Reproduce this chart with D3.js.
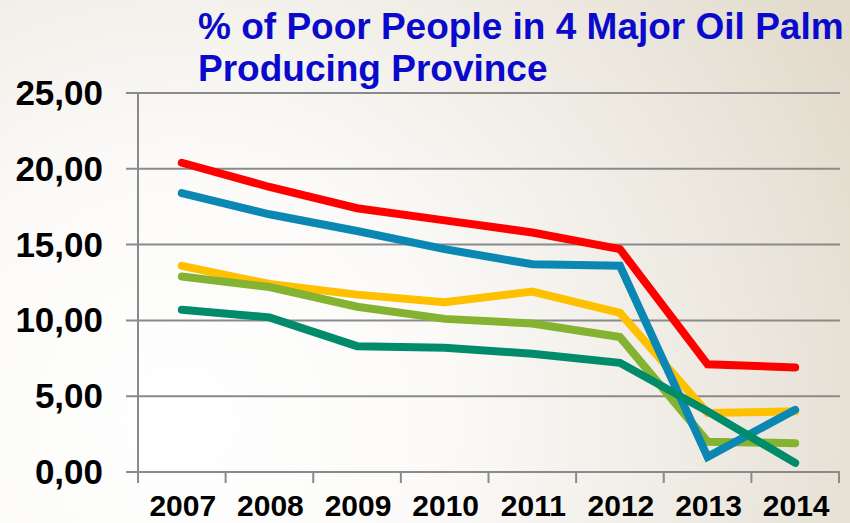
<!DOCTYPE html>
<html>
<head>
<meta charset="utf-8">
<script src="https://cdn.jsdelivr.net/npm/d3@7"></script>
<style>
  html, body { margin: 0; padding: 0; }
  body { width: 850px; height: 523px; overflow: hidden; }
  svg { display: block; }
</style>
</head>
<body>
<svg id="chart" width="850" height="523"></svg>
<script>
// Poverty share (%) in the four main oil palm producing provinces, 2007-2014
const years = ["2007", "2008", "2009", "2010", "2011", "2012", "2013", "2014"];
const seriesNames = ["Province A", "Province B", "Province C", "Province D", "Province E"];
const redValues = [20.4, 18.8, 17.4, 16.6, 15.8, 14.7, 7.1, 6.9];
const yellowValues = [13.6, 12.4, 11.7, 11.2, 11.9, 10.5, 3.9, 4.0];
const oliveValues = [12.9, 12.2, 10.9, 10.1, 9.8, 8.9, 2.0, 1.9];
const blueValues = [18.4, 17.0, 15.9, 14.7, 13.7, 13.6, 1.0, 4.1];
const tealValues = [10.7, 10.2, 8.3, 8.2, 7.8, 7.2, 4.0, 0.6];
const yTicks = [0, 5, 10, 15, 20, 25];
const titleLines = ["% of Poor People in 4 Major Oil Palm", "Producing Province"];

const series = [
  { name: seriesNames[0], values: redValues, color: "#ff0000" },
  { name: seriesNames[1], values: yellowValues, color: "#ffc000" },
  { name: seriesNames[2], values: oliveValues, color: "#84b231" },
  { name: seriesNames[3], values: blueValues, color: "#0b87b3" },
  { name: seriesNames[4], values: tealValues, color: "#008c6b" }
];

const W = 850, H = 523;
const plot = { left: 138, right: 839, top: 93, bottom: 472 };
const svg = d3.select("#chart");

// background wash: white at lower left, warm beige toward the upper right
const defs = svg.append("defs");
const bg = defs.append("radialGradient")
  .attr("id", "bg").attr("gradientUnits", "userSpaceOnUse")
  .attr("cx", 180).attr("cy", 420).attr("r", 760);
bg.append("stop").attr("offset", "0%").attr("stop-color", "#ffffff");
bg.append("stop").attr("offset", "35%").attr("stop-color", "#fbfaf8");
bg.append("stop").attr("offset", "75%").attr("stop-color", "#ece8df");
bg.append("stop").attr("offset", "100%").attr("stop-color", "#e2dbcc");
svg.append("rect").attr("width", W).attr("height", H).attr("fill", "url(#bg)");

const x = d3.scaleBand().domain(years).range([plot.left, plot.right]).padding(0);
const y = d3.scaleLinear().domain([0, 25]).range([plot.bottom, plot.top]);

const gridColor = "#8a8a8a";

// horizontal gridlines (they also form the y tick marks on the left)
svg.append("g").selectAll("line").data(yTicks).join("line")
  .attr("x1", plot.left - 12).attr("x2", plot.right + 1)
  .attr("y1", d => y(d)).attr("y2", d => y(d))
  .attr("stroke", gridColor).attr("stroke-width", 2);

// y axis line
svg.append("line")
  .attr("x1", plot.left).attr("x2", plot.left)
  .attr("y1", y(25)).attr("y2", y(0) + 11)
  .attr("stroke", gridColor).attr("stroke-width", 2);

// x axis with ticks at category boundaries
const boundaries = years.map(d => x(d)).concat([plot.right]);
svg.append("g").selectAll("line").data(boundaries).join("line")
  .attr("x1", d => d).attr("x2", d => d)
  .attr("y1", y(0)).attr("y2", y(0) + 11)
  .attr("stroke", gridColor).attr("stroke-width", 2);

// y tick labels
const fmt = d => d3.format(".2f")(d).replace(".", ",");
svg.append("g").selectAll("text").data(yTicks).join("text")
  .attr("x", 103).attr("y", d => y(d) + 12)
  .attr("text-anchor", "end")
  .attr("font-family", "Liberation Sans, Arial, sans-serif")
  .attr("font-weight", "bold").attr("font-size", 35)
  .attr("fill", "#000")
  .text(fmt);

// x tick labels
svg.append("g").selectAll("text").data(years).join("text")
  .attr("x", d => x(d) + x.bandwidth() / 2 + 1).attr("y", 516)
  .attr("text-anchor", "middle")
  .attr("font-family", "Liberation Sans, Arial, sans-serif")
  .attr("font-weight", "bold").attr("font-size", 30)
  .attr("fill", "#000")
  .text(d => d);

// series lines
const line = d3.line()
  .x((d, i) => x(years[i]) + x.bandwidth() / 2)
  .y(d => y(d));

svg.append("g").selectAll("path").data(series).join("path")
  .attr("d", s => line(s.values))
  .attr("fill", "none")
  .attr("stroke", s => s.color)
  .attr("stroke-width", 8)
  .attr("stroke-linecap", "round")
  .attr("stroke-linejoin", "miter");

// title
svg.append("g").selectAll("text").data(titleLines).join("text")
  .attr("x", 198).attr("y", (d, i) => 39 + i * 42)
  .attr("font-family", "Liberation Sans, Arial, sans-serif")
  .attr("font-weight", "bold").attr("font-size", 37)
  .attr("fill", "#0a0acc")
  .text(d => d);
</script>
</body>
</html>
